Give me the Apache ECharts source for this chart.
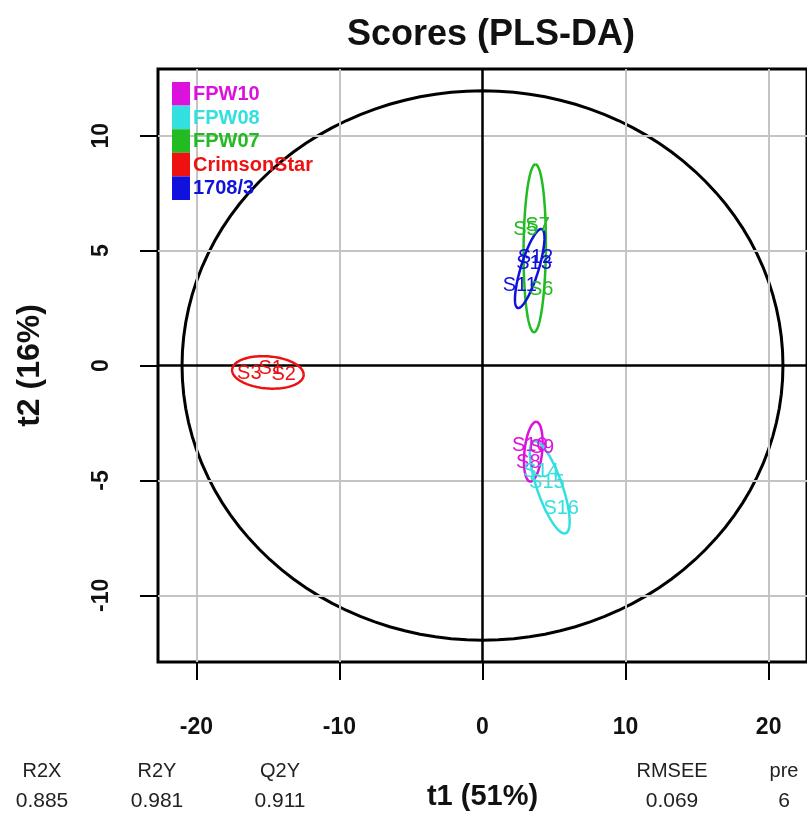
<!DOCTYPE html>
<html><head><meta charset="utf-8">
<script src="https://cdn.jsdelivr.net/npm/echarts@6/dist/echarts.min.js"></script>
<style>html,body{margin:0;padding:0;background:#fff}#chart{width:807px;height:816px}</style>
</head><body><div id="chart"></div>
<script>
// Class names and colours (legend order, top to bottom)
const groupNames = ['FPW10', 'FPW08', 'FPW07', 'CrimsonStar', '1708/3'];
const groupColors = ['#DD11DD', '#33E0E0', '#22BB22', '#EE1111', '#1111DD'];

// PLS-DA scores per class: [t1, t2, sample]
const scoresFPW10 = [[3.3, -3.5, 'S10'], [3.2, -4.2, 'S8'], [4.15, -3.55, 'S9']];
const scoresFPW08 = [[4.1, -4.6, 'S14'], [5.5, -6.2, 'S16'], [4.5, -5.1, 'S15']];
const scoresFPW07 = [[3.0, 5.9, 'S5'], [4.1, 3.3, 'S6'], [3.85, 6.1, 'S7']];
const scoresCrimson = [[-16.3, -0.35, 'S3'], [-13.9, -0.4, 'S2'], [-14.8, -0.15, 'S1']];
const scores17083 = [[2.6, 3.5, 'S11'], [3.6, 4.45, 'S13'], [3.7, 4.71, 'S12']];
const groupScores = [scoresFPW10, scoresFPW08, scoresFPW07, scoresCrimson, scores17083];

// Conjugate half-axes of each class ellipse: [u1, u2, v1, v2]
const ellipseAxes = [
  [0.2, 1.3, 0.62, 0],
  [1.1, -2.0, 0.85, 0.15],
  [0.05, 3.65, 0.78, 0],
  [2.5, -0.1, 0, 0.7],
  [0.8, 1.72, 0.65, 0]
];
// Hotelling T2 ellipse radii (t1, t2)
const hotellingRadii = [21.0, 11.95];

const xTicks = [-20, -10, 0, 10, 20];
const yTicks = [-10, -5, 0, 5, 10];
const xRange = [-22.68, 22.68];
const yRange = [-12.9, 12.9];

const statNames = ['R2X', 'R2Y', 'Q2Y', 'RMSEE', 'pre'];
const statValues = ['0.885', '0.981', '0.911', '0.069', '6'];

const FONT = '"Liberation Sans", Arial, sans-serif';
const chart = echarts.init(document.getElementById('chart'), null, { renderer: 'canvas' });

function ellipsePoints(api, cx, cy, u1, u2, v1, v2) {
  const pts = [];
  const n = 120;
  for (let i = 0; i <= n; i++) {
    const t = (i / n) * Math.PI * 2;
    pts.push(api.coord([cx + u1 * Math.cos(t) + v1 * Math.sin(t), cy + u2 * Math.cos(t) + v2 * Math.sin(t)]));
  }
  return pts;
}

// ellipse rows: [cx, cy, u1, u2, v1, v2, groupIndex]
const ellipseRows = groupScores.map((pts, g) => {
  const cx = pts.reduce((s, p) => s + p[0], 0) / pts.length;
  const cy = pts.reduce((s, p) => s + p[1], 0) / pts.length;
  return [cx, cy].concat(ellipseAxes[g]).concat([g]);
});

const series = [];

// reference grid and zero lines
series.push({
  type: 'line', data: [], silent: true,
  markLine: {
    symbol: 'none', silent: true, animation: false, label: { show: false },
    lineStyle: { color: '#C4C4C4', width: 2, type: 'solid' },
    data: xTicks.filter(v => v !== 0).map(v => ({ xAxis: v })).concat(yTicks.filter(v => v !== 0).map(v => ({ yAxis: v })))
  }
});
series.push({
  type: 'line', data: [], silent: true, z: 3,
  markLine: {
    symbol: 'none', silent: true, animation: false, label: { show: false },
    lineStyle: { color: '#000', width: 2.5, type: 'solid' },
    data: [{ xAxis: 0 }, { yAxis: 0 }]
  }
});

// Hotelling ellipse
series.push({
  type: 'custom', z: 4, silent: true, animation: false,
  data: [[0, 0, hotellingRadii[0], hotellingRadii[1]]],
  renderItem: (params, api) => ({
    type: 'polyline',
    shape: { points: ellipsePoints(api, api.value(0), api.value(1), api.value(2), 0, 0, api.value(3)) },
    style: { stroke: '#000', lineWidth: 3, fill: null }
  })
});

// class ellipses
series.push({
  type: 'custom', z: 5, silent: true, animation: false,
  data: ellipseRows,
  renderItem: (params, api) => ({
    type: 'polyline',
    shape: { points: ellipsePoints(api, api.value(0), api.value(1), api.value(2), api.value(3), api.value(4), api.value(5)) },
    style: { stroke: groupColors[api.value(6)], lineWidth: 2.5, fill: null }
  })
});

// sample names at their scores
groupScores.forEach((pts, g) => {
  series.push({
    type: 'custom', z: 6, silent: true, animation: false,
    data: pts.map(p => [p[0], p[1]]),
    renderItem: (params, api) => {
      const c = api.coord([api.value(0), api.value(1)]);
      return {
        type: 'text', x: c[0], y: c[1],
        style: {
          text: pts[params.dataIndex][2], fill: groupColors[g],
          font: '20px ' + FONT, align: 'center', verticalAlign: 'middle'
        }
      };
    }
  });
});

// legend blocks
const legendGraphics = [];
groupNames.forEach((name, i) => {
  legendGraphics.push({
    type: 'rect', left: 172, top: 82 + i * 23.6,
    shape: { width: 18, height: 23.6 }, style: { fill: groupColors[i] }, z: 10
  });
  legendGraphics.push({
    type: 'text', x: 193, y: 82 + i * 23.6 + 12.5,
    style: { text: name, fill: groupColors[i], font: 'bold 20px ' + FONT, verticalAlign: 'middle' }, z: 10
  });
});

// model statistics
const statX = [42, 157, 280, 672, 784];
const statGraphics = [];
statNames.forEach((n, i) => {
  statGraphics.push({
    type: 'text', x: statX[i], y: 771,
    style: { text: n, fill: '#222', font: '20px ' + FONT, align: 'center', verticalAlign: 'middle' }
  });
  statGraphics.push({
    type: 'text', x: statX[i], y: 801,
    style: { text: statValues[i], fill: '#222', font: '21px ' + FONT, align: 'center', verticalAlign: 'middle' }
  });
});

chart.setOption({
  animation: false,
  backgroundColor: '#fff',
  title: {
    text: 'Scores (PLS-DA)', left: 486, top: 12, textAlign: 'center',
    textStyle: { fontFamily: FONT, fontWeight: 'bold', fontSize: 36, color: '#111' }
  },
  grid: { left: 158, top: 69, width: 652, height: 596, show: true, borderColor: '#000', borderWidth: 3, backgroundColor: 'transparent' },
  xAxis: {
    type: 'value', min: xRange[0], max: xRange[1],
    name: 't1 (51%)', nameLocation: 'middle', nameGap: 120,
    nameTextStyle: { fontFamily: FONT, fontWeight: 'bold', fontSize: 29, color: '#111' },
    axisLine: { show: false, onZero: false },
    splitLine: { show: false },
    axisTick: { show: true, customValues: xTicks, length: 18, lineStyle: { color: '#000', width: 2 } },
    axisLabel: { customValues: xTicks, margin: 54, fontFamily: FONT, fontWeight: 'bold', fontSize: 23, color: '#111' }
  },
  yAxis: {
    type: 'value', min: yRange[0], max: yRange[1],
    name: 't2 (16%)', nameLocation: 'middle', nameGap: 112, nameRotate: 90,
    nameTextStyle: { fontFamily: FONT, fontWeight: 'bold', fontSize: 32, color: '#111' },
    axisLine: { show: false, onZero: false },
    splitLine: { show: false },
    axisTick: { show: true, customValues: yTicks, length: 18, lineStyle: { color: '#000', width: 2 } },
    axisLabel: { customValues: yTicks, rotate: 90, margin: 45, fontFamily: FONT, fontWeight: 'bold', fontSize: 23, color: '#111' }
  },
  graphic: legendGraphics.concat(statGraphics),
  series: series
});
</script>
</body></html>
